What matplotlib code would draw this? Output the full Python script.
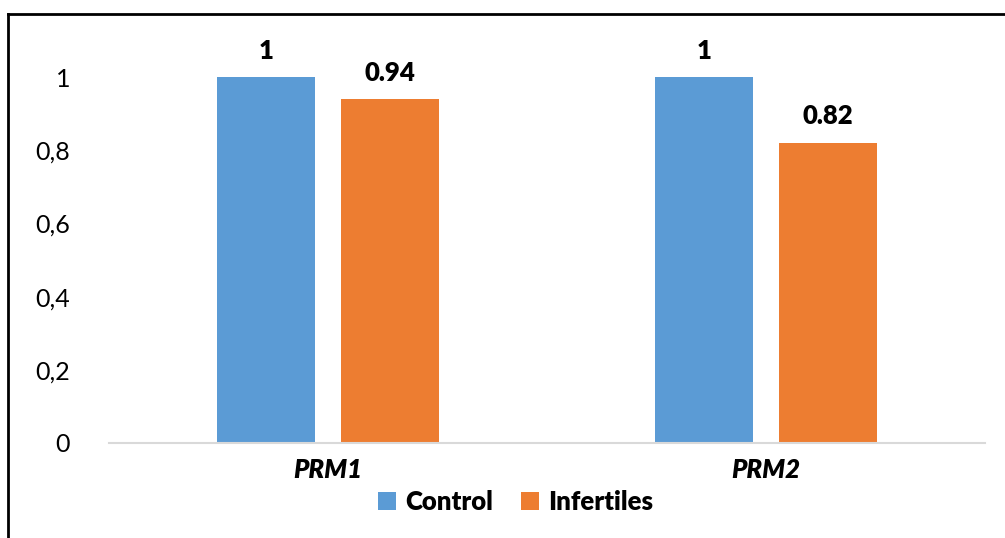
import matplotlib
matplotlib.use("Agg")
import matplotlib.pyplot as plt
from matplotlib.lines import Line2D
from matplotlib.patches import Patch

categories = ["PRM1", "PRM2"]
series_names = ["Control", "Infertiles"]
control = [1.0, 1.0]
infertiles = [0.94, 0.82]
control_labels = ["1", "1"]
infertiles_labels = ["0.94", "0.82"]
yticks = [0, 0.2, 0.4, 0.6, 0.8, 1.0]
ytick_labels = ["0", "0,2", "0,4", "0,6", "0,8", "1"]

colors = ["#5B9BD5", "#ED7D31"]
FONT = ["Lato", "DejaVu Sans"]
plt.rcParams["font.family"] = FONT

fig = plt.figure(figsize=(10.05, 5.38), dpi=100)
ax = fig.add_axes([0.1085, 0.1766, 0.8716, 0.7823])

x = list(range(len(categories)))
w = 0.224
off = 0.142
b1 = ax.bar([i - off for i in x], control, width=w, color=colors[0])
b2 = ax.bar([i + off for i in x], infertiles, width=w, color=colors[1])

for bars, labs in ((b1, control_labels), (b2, infertiles_labels)):
    for r, t in zip(bars, labs):
        ax.annotate(t, (r.get_x() + r.get_width() / 2, r.get_height()),
                    xytext=(0, 19), textcoords="offset points",
                    ha="center", va="center", fontsize=18.5, fontweight="heavy")

ax.set_xlim(-0.5, 1.5)
ax.set_ylim(0, 1.15)
ax.set_yticks(yticks)
ax.set_yticklabels(ytick_labels, fontsize=18)
ax.set_xticks(x)
ax.set_xticklabels(categories, fontsize=18.5, fontweight="heavy", fontstyle="italic")
ax.tick_params(axis="both", length=0)
ax.tick_params(axis="y", pad=28)
ax.tick_params(axis="x", pad=11)
for s in ("top", "right", "left"):
    ax.spines[s].set_visible(False)
ax.spines["bottom"].set_color("#D9D9D9")
ax.spines["bottom"].set_linewidth(1.5)

handles = [Patch(facecolor=c) for c in colors]
fig.legend(handles, series_names, loc="center", bbox_to_anchor=(0.513, 0.067),
           ncol=2, frameon=False, prop={"family": FONT, "size": 18.5, "weight": "heavy"},
           handlelength=0.7, handleheight=0.7, handletextpad=0.35, columnspacing=1.1)

# outer frame
fig.add_artist(Line2D([0.008, 0.008], [0.0, 1 - 14 / 538], transform=fig.transFigure,
                      color="black", lw=2))
fig.add_artist(Line2D([0.008, 1.0], [1 - 14 / 538, 1 - 14 / 538], transform=fig.transFigure,
                      color="black", lw=2))

fig.savefig("out.png", dpi=100)
